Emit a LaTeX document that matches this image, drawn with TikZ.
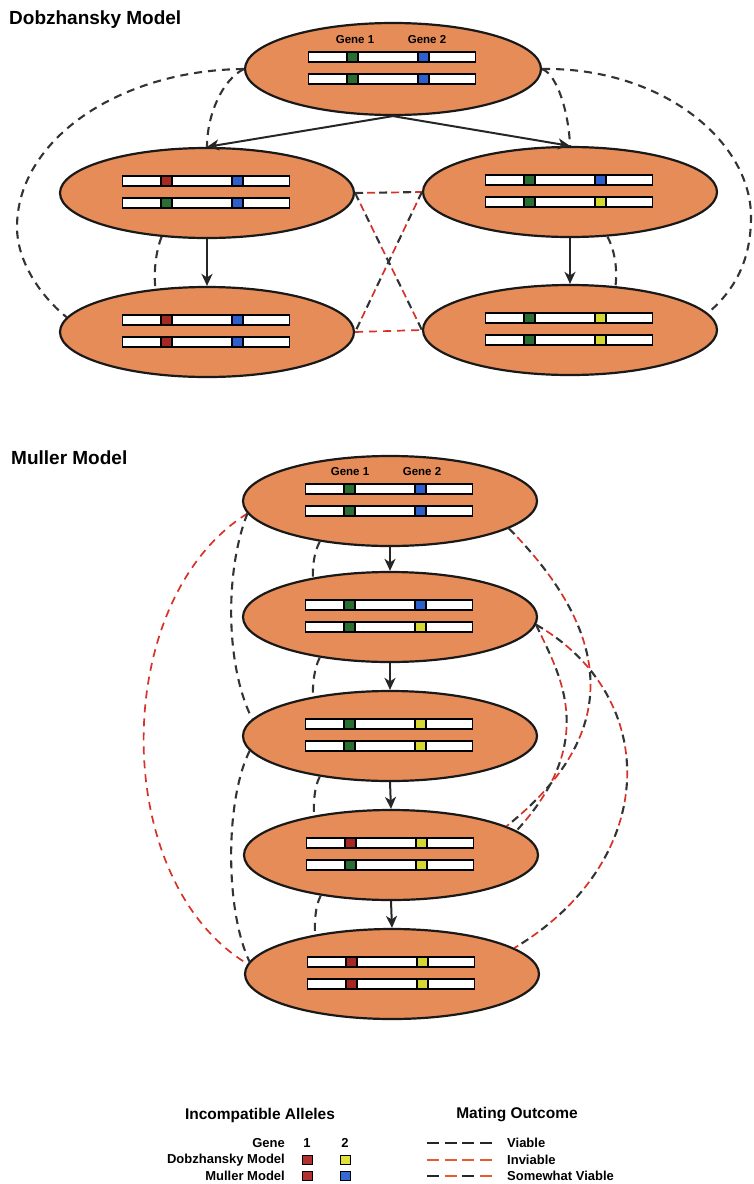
\documentclass[tikz,border=0pt]{standalone}
\usepackage{fontspec}
\setmainfont{Liberation Sans}
\usetikzlibrary{shapes.geometric,arrows.meta}
\definecolor{cellfill}{RGB}{230,140,88}
\definecolor{dred}{RGB}{215,50,40}
\definecolor{mgreen}{RGB}{40,112,50}
\definecolor{mblue}{RGB}{45,95,205}
\definecolor{mred}{RGB}{165,40,35}
\definecolor{myellow}{RGB}{215,215,50}
\definecolor{lred}{RGB}{178,48,48}
\definecolor{lyellow}{RGB}{225,225,60}
\definecolor{lblue}{RGB}{55,105,210}
\definecolor{lorange}{RGB}{230,90,50}
\newcommand{\chromo}[3]{%
  \filldraw[bar] (-84.5,#1-5) rectangle (82.5,#1+5);
  \filldraw[bar, fill=#2] (-46,#1-5) rectangle (-35,#1+5);
  \filldraw[bar, fill=#3] (25,#1-5) rectangle (36,#1+5);}
\newcommand{\cellbars}[5]{%
  \begin{scope}[shift={(#1.center)}]
    \chromo{-12}{#2}{#3}
    \chromo{10}{#4}{#5}
  \end{scope}}
\begin{document}
\begin{tikzpicture}[x=1pt,y=-1pt,
  cell/.style={ellipse, draw=black!90, line width=2.2pt, fill=cellfill, minimum width=294pt, minimum height=90pt, inner sep=0pt},
  bar/.style={draw=black, fill=white, line width=1.1pt},
  arr/.style={line width=2pt, draw=black!85, -{Stealth[length=12pt,width=11pt,inset=3.5pt]}},
  viable/.style={line width=2.1pt, draw=black!80, dash pattern=on 8pt off 6pt},
  inviable/.style={line width=1.7pt, draw=dred, dash pattern=on 8pt off 6pt},
  somewhat/.style={line width=2.1pt, draw=black!80, dash pattern=on 8pt off 16pt,
     postaction={draw=dred, line width=1.7pt, dash pattern=on 8pt off 16pt, dash phase=12pt}},
  title/.style={font=\fontsize{19}{22}\selectfont\bfseries, anchor=west, inner sep=0pt},
  genelbl/.style={font=\fontsize{11.5}{13}\selectfont\bfseries, inner sep=0pt},
  legtitle/.style={font=\fontsize{15.5}{18}\selectfont\bfseries, inner sep=0pt},
  legtxt/.style={font=\fontsize{13}{15}\selectfont\bfseries, inner sep=0pt},
  sq/.style={draw=black, line width=0.8pt, minimum width=10pt, minimum height=9pt, inner sep=0pt},
  legv/.style={line width=1.6pt, draw=black!85, dash pattern=on 12pt off 5.5pt},
  legi/.style={line width=1.6pt, draw=lorange, dash pattern=on 12pt off 5.5pt},
  legs/.style={line width=1.6pt, draw=black!85, dash pattern=on 12pt off 23pt,
     postaction={draw=lorange, dash pattern=on 12pt off 23pt, dash phase=17.5pt}},
]
\useasboundingbox (0,0) rectangle (754,1184);

% ---------------- Dobzhansky model ----------------
\node[title] (dtitle) at (9,20) {Dobzhansky Model};
\node[cell, minimum width=296pt, minimum height=92pt] (T) at (393,69) {};
\node[cell] (ML) at (207,193) {};
\node[cell] (MR) at (570,192) {};
\node[cell] (BL) at (207,332) {};
\node[cell] (BR) at (570,330) {};

\cellbars{T}{mgreen}{mblue}{mgreen}{mblue}
\cellbars{ML}{mred}{mblue}{mgreen}{mblue}
\cellbars{MR}{mgreen}{mblue}{mgreen}{myellow}
\cellbars{BL}{mred}{mblue}{mred}{mblue}
\cellbars{BR}{mgreen}{myellow}{mgreen}{myellow}

\node[genelbl] (dg1) at ([shift={(-38,-29)}]T.center) {Gene 1};
\node[genelbl] (dg2) at ([shift={(34,-29)}]T.center) {Gene 2};

\draw[arr] (T.south) -- (ML.north);
\draw[arr] (T.south) -- (MR.north);
\draw[arr] (ML.south) -- (BL.north);
\draw[arr] (MR.south) -- (BR.north);

\draw[viable] (T.west) .. controls (119,70) and (17,140) .. (17,227) .. controls (17,265) and (45,300) .. (BL.174);
\draw[viable] (T.west) .. controls (222,80) and (207,115) .. (ML.north);
\draw[viable] (ML.224) .. controls +(-6,15) and +(-2,-15) .. (BL.140);
\draw[viable] (T.east) .. controls (660,67) and (751,140) .. (751,217) .. controls (751,260) and (735,290) .. (BR.7);
\draw[viable] (T.east) .. controls (558,75) and (569,115) .. (MR.north);
\draw[viable] (MR.310) .. controls +(8,15) and +(2,-15) .. (BR.44);

\draw[somewhat] (ML.east) -- (MR.west);
\draw[inviable] (BL.east) -- (BR.west);
\draw[somewhat] (ML.east) -- (BR.west);
\draw[somewhat] (MR.west) -- (BL.east);

% ---------------- Muller model ----------------
\node[title] (mtitle) at (11,458) {Muller Model};
\node[cell] (E1) at (390,501) {};
\node[cell] (E2) at (390,617) {};
\node[cell] (E3) at (390,736) {};
\node[cell] (E4) at (391,855) {};
\node[cell] (E5) at (392,974) {};

\cellbars{E1}{mgreen}{mblue}{mgreen}{mblue}
\cellbars{E2}{mgreen}{mblue}{mgreen}{myellow}
\cellbars{E3}{mgreen}{myellow}{mgreen}{myellow}
\cellbars{E4}{mred}{myellow}{mgreen}{myellow}
\cellbars{E5}{mred}{myellow}{mred}{myellow}

\node[genelbl] (mg1) at ([shift={(-40,-29)}]E1.center) {Gene 1};
\node[genelbl] (mg2) at ([shift={(32,-29)}]E1.center) {Gene 2};

\draw[arr] (E1.south) -- (E2.north);
\draw[arr] (E2.south) -- (E3.north);
\draw[arr] (E3.south) -- (E4.north);
\draw[arr] (E4.south) -- (E5.north);

\draw[viable] (E1.210) .. controls +(-6,12) and +(0,-12) .. (E2.153);
\draw[viable] (E2.210) .. controls +(-6,12) and +(0,-12) .. (E3.153);
\draw[viable] (E3.210) .. controls +(-6,12) and +(0,-12) .. (E4.153);
\draw[viable] (E4.210) .. controls +(-6,12) and +(0,-12) .. (E5.153);

\draw[inviable] (E1.185) .. controls (109,600) and (109,880) .. (E5.176);
\draw[viable] (E1.185) .. controls (225,570) and (225,665) .. (E3.173);
\draw[viable] (E3.186) .. controls (225,800) and (225,910) .. (E5.175);

\draw[somewhat] (E1.347) .. controls (624,645) and (612,742) .. (E4.14);
\draw[somewhat] (E2.357) .. controls (558,672) and (601,739) .. (E4.11);
\draw[somewhat] (E2.357) .. controls (661,696) and (661,860) .. (E5.12);

% ---------------- Legend ----------------
\node[legtitle] (lt1) at (260,1115) {Incompatible Alleles};
\node[legtitle] (lt2) at (517,1115) {Mating Outcome};
\node[legtxt, anchor=east] (lgene) at (285,1143) {Gene};
\node[legtxt] (l1) at (307,1143) {1};
\node[legtxt] (l2) at (345,1143) {2};
\node[legtxt, anchor=east] (ldob) at (285,1160) {Dobzhansky Model};
\node[legtxt, anchor=east] (lmul) at (285,1176) {Muller Model};
\node[sq, fill=lred] (sq1) at (307,1160) {};
\node[sq, fill=lyellow] (sq2) at (345,1160) {};
\node[sq, fill=lred] (sq3) at (307,1176) {};
\node[sq, fill=lblue] (sq4) at (345,1176) {};

\coordinate (va) at (427,1143); \coordinate (vb) at (493,1143);
\coordinate (ia) at (427,1160); \coordinate (ib) at (493,1160);
\coordinate (sa) at (427,1176); \coordinate (sb) at (493,1176);
\draw[legv] (va) -- (vb);
\draw[legi] (ia) -- (ib);
\draw[legs] (sa) -- (sb);
\node[legtxt, anchor=west] (lv) at (507,1143) {Viable};
\node[legtxt, anchor=west] (li) at (507,1160) {Inviable};
\node[legtxt, anchor=west] (ls) at (507,1176) {Somewhat Viable};
\end{tikzpicture}
\end{document}
